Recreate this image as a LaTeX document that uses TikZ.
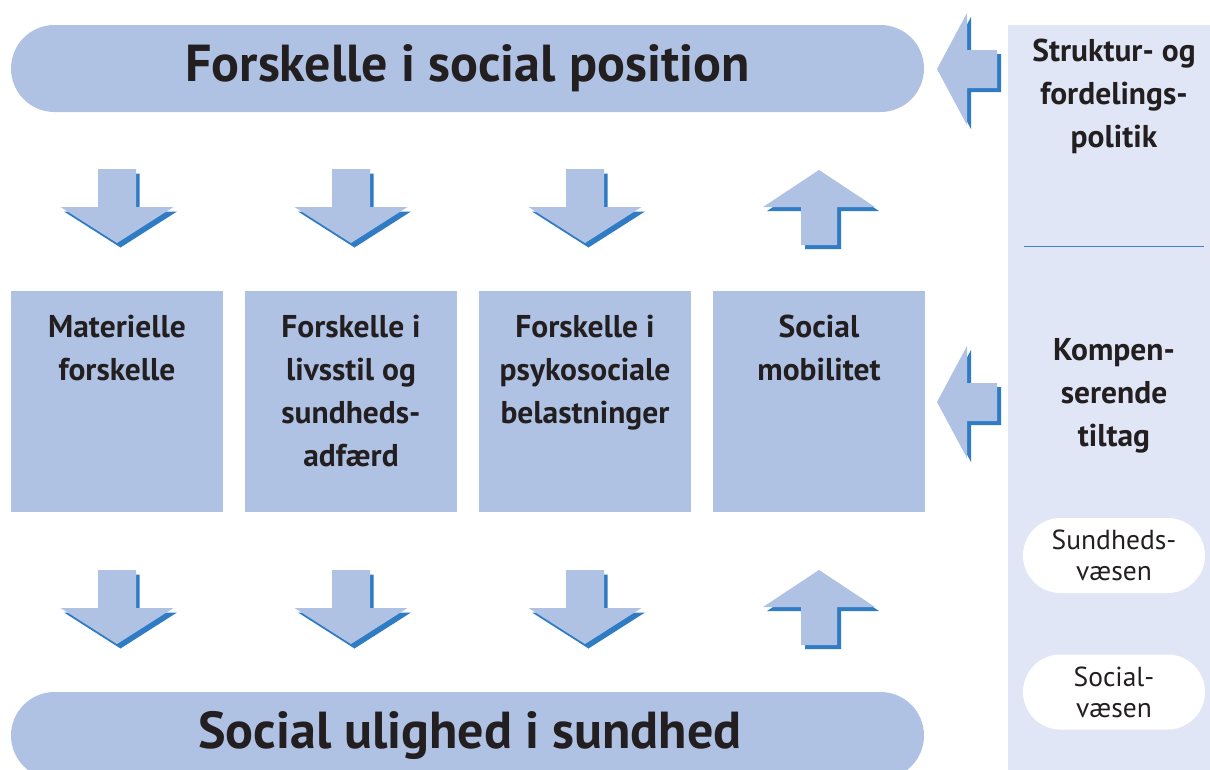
\documentclass[tikz,border=0pt]{standalone}
\usepackage{fontspec}
\setmainfont{PT Sans}
\definecolor{blockblue}{HTML}{AFC2E4}
\definecolor{arrowshadow}{HTML}{2F7CC4}
\definecolor{panelbg}{HTML}{E0E6F5}
\definecolor{inkdark}{HTML}{231F20}
\definecolor{ruleblue}{HTML}{3A83C8}
\tikzset{
  pill/.style={fill=blockblue, rounded corners=43.5pt, minimum width=913pt,
    minimum height=87pt, inner sep=0pt},
  titletext/.style={font=\bfseries\fontsize{52}{58}\selectfont, text=inkdark, inner sep=0pt},
  infobox/.style={fill=blockblue, minimum width=212pt, minimum height=221pt, inner sep=0pt},
  boxlabel/.style={font=\bfseries\fontsize{31.5}{43}\selectfont, text=inkdark,
    align=center, inner sep=0pt},
  panel/.style={fill=panelbg, minimum width=212pt, minimum height=760pt, inner sep=0pt},
  servicepill/.style={fill=white, rounded corners=37.5pt, minimum width=182pt,
    minimum height=75pt, inner sep=0pt, text=inkdark, align=center,
    font=\fontsize{27.5}{31}\selectfont},
  sepline/.style={draw=ruleblue, line width=1.5pt},
  pics/downblock/.style={code={
    \fill[arrowshadow, shift={(3.5,4.5)}] (-19,0) -- (19,0) -- (19,38) -- (56.5,38)
      -- (0,74) -- (-56.5,38) -- (-19,38) -- cycle;
    \fill[blockblue] (-19,0) -- (19,0) -- (19,38) -- (56.5,38)
      -- (0,74) -- (-56.5,38) -- (-19,38) -- cycle;
  }},
  pics/upblock/.style={code={
    \fill[arrowshadow, shift={(4,4)}] (0,0) -- (56,37) -- (18,37) -- (18,75)
      -- (-18,75) -- (-18,37) -- (-56,37) -- cycle;
    \fill[blockblue] (0,0) -- (56,37) -- (18,37) -- (18,75)
      -- (-18,75) -- (-18,37) -- (-56,37) -- cycle;
  }},
  pics/leftblock/.style={code={
    \fill[arrowshadow, shift={(4,4)}] (0,0) -- (30,-56) -- (30,-19) -- (60,-19)
      -- (60,19) -- (30,19) -- (30,56) -- cycle;
    \fill[blockblue] (0,0) -- (30,-56) -- (30,-19) -- (60,-19)
      -- (60,19) -- (30,19) -- (30,56) -- cycle;
  }},
}
\begin{document}
\begin{tikzpicture}[x=1pt, y=-1pt]
\useasboundingbox (0,0) rectangle (1210,769);

% policy panel on the right
\node[panel, anchor=north west] (panel) at (1008,25) {};
\coordinate (sepL) at (1024,246.5);
\coordinate (sepR) at (1204,246.5);
\draw[sepline] (sepL) -- (sepR);
\node[boxlabel, anchor=north] (policy) at (1114,39) {Struktur- og\\fordelings-\\politik};
\node[boxlabel, anchor=north] (compensate) at (1114,338) {Kompen-\\serende\\tiltag};
\node[servicepill] (health) at (1114,555.5) {Sundheds-\\væsen};
\node[servicepill] (welfare) at (1114,692) {Social-\\væsen};

% top and bottom bars
\node[pill] (topbar) at (467.5,68.5) {};
\node[titletext, anchor=base] (toptitle) at (467.5,81) {Forskelle i social position};
\node[pill] (bottombar) at (467.5,735.5) {};
\node[titletext, anchor=base] (bottomtitle) at (470,748) {Social ulighed i sundhed};

% the four mechanism boxes
\node[infobox] (b1) at (117,401.5) {};
\node[infobox] (b2) at (351,401.5) {};
\node[infobox] (b3) at (585,401.5) {};
\node[infobox] (b4) at (819,401.5) {};
\node[boxlabel, anchor=north] (l1) at (117,315) {Materielle\\forskelle};
\node[boxlabel, anchor=north] (l2) at (351,315) {Forskelle i\\livsstil og\\sundheds-\\adfærd};
\node[boxlabel, anchor=north] (l3) at (585,315) {Forskelle i\\psykosociale\\belastninger};
\node[boxlabel, anchor=north] (l4) at (819,315) {Social\\mobilitet};

% block arrows between the bars and the boxes
\pic (d11) at (117,169) {downblock};
\pic (d12) at (351,169) {downblock};
\pic (d13) at (585,169) {downblock};
\pic (u14) at (819,170) {upblock};
\pic (d21) at (117,570) {downblock};
\pic (d22) at (351,570) {downblock};
\pic (d23) at (585,570) {downblock};
\pic (u24) at (819,570) {upblock};

% arrows from the policy panel
\pic (p1) at (937,69) {leftblock};
\pic (p2) at (937,402) {leftblock};
\end{tikzpicture}
\end{document}
